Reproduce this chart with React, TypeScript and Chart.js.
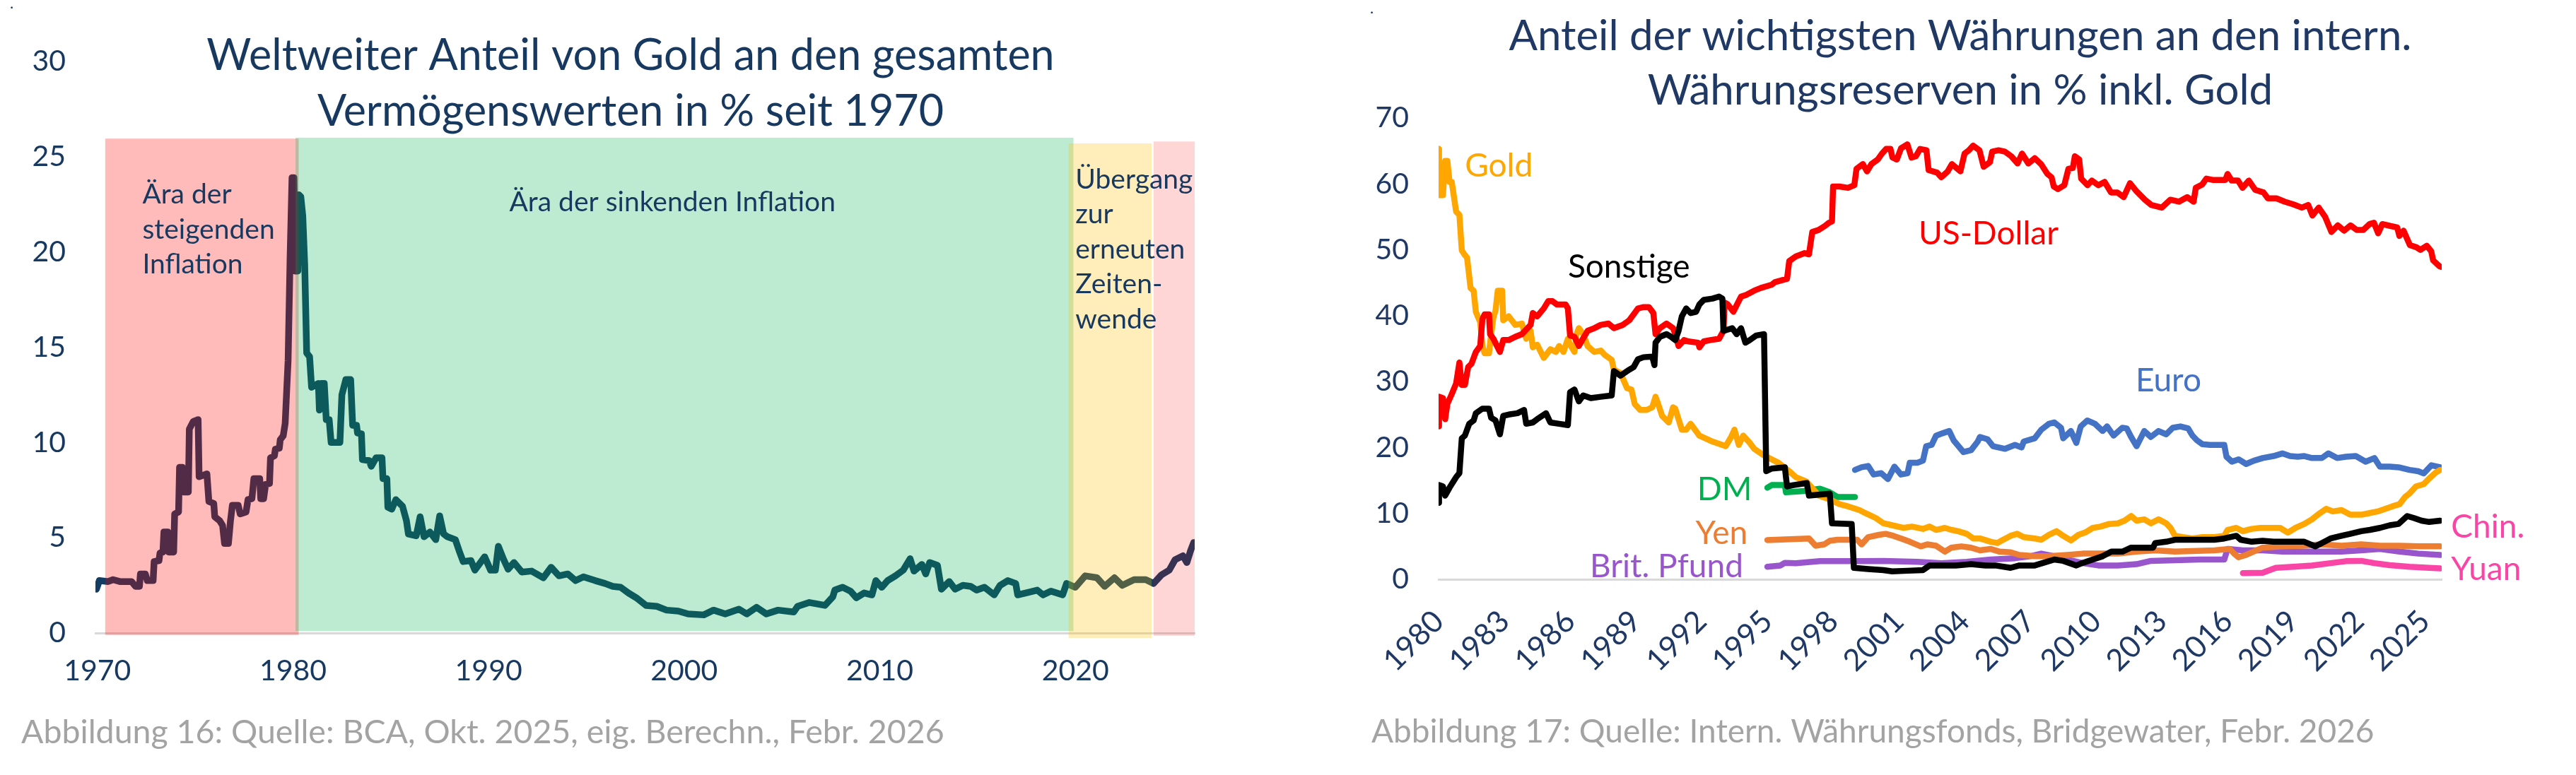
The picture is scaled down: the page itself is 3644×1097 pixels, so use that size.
import React, { useEffect, useRef } from "react";
import { Chart, registerables } from "chart.js";

Chart.register(...registerables);

// ---------------- data: left chart (gold share of global assets, %) ----------------
const goldShareYears = [
  1969.95, 1970.1, 1970.55, 1970.8, 1971.15, 1971.75, 1971.95, 1972.15, 1972.2, 1972.45, 1972.55, 1972.85,
  1972.9, 1973.15, 1973.2, 1973.35, 1973.4, 1973.6, 1973.65, 1973.9, 1973.95, 1974.15, 1974.2, 1974.35,
  1974.4, 1974.65, 1974.7, 1974.9, 1975.15, 1975.2, 1975.6, 1975.7, 1975.95, 1976.0, 1976.25, 1976.4,
  1976.5, 1976.7, 1976.8, 1976.9, 1977.2, 1977.3, 1977.6, 1977.7, 1977.9, 1978.0, 1978.3, 1978.35,
  1978.5, 1978.6, 1978.8, 1978.85, 1979.05, 1979.1, 1979.3, 1979.35, 1979.5, 1979.6, 1979.75, 1979.85,
  1979.95, 1980.05, 1980.1, 1980.25, 1980.3, 1980.4, 1980.5, 1980.6, 1980.7, 1980.85, 1980.95, 1981.3,
  1981.35, 1981.45, 1981.6, 1981.7, 1981.85, 1981.95, 1982.4, 1982.5, 1982.7, 1982.95, 1983.05, 1983.25,
  1983.3, 1983.5, 1983.55, 1983.9, 1984.0, 1984.25, 1984.55, 1984.6, 1984.8, 1984.85, 1985.05, 1985.26,
  1985.6, 1985.8, 1985.9, 1986.3, 1986.5, 1986.7, 1987.0, 1987.3, 1987.5, 1987.7, 1987.9, 1988.3,
  1988.5, 1988.7, 1989.1, 1989.3, 1989.8, 1990.1, 1990.35, 1990.5, 1990.75, 1991.0, 1991.3, 1991.7,
  1992.2, 1992.8, 1993.2, 1993.6, 1994.05, 1994.45, 1994.85, 1995.45, 1995.95, 1996.35, 1996.75, 1997.15,
  1997.55, 1998.05, 1998.6, 1999.1, 1999.7, 2000.2, 2001.0, 2001.5, 2002.1, 2002.8, 2003.2, 2003.7,
  2004.2, 2004.8, 2005.6, 2005.8, 2006.4, 2007.2, 2007.6, 2007.7, 2008.1, 2008.5, 2008.8, 2009.2,
  2009.6, 2009.8, 2010.1, 2010.4, 2010.8, 2011.2, 2011.55, 2011.75, 2012.15, 2012.35, 2012.55, 2012.95,
  2013.15, 2013.55, 2013.85, 2014.25, 2014.65, 2014.95, 2015.35, 2015.85, 2016.15, 2016.55, 2016.95, 2017.05,
  2017.65, 2018.05, 2018.35, 2018.75, 2019.35, 2019.55, 2020.0, 2020.5, 2021.1, 2021.5, 2022.0, 2022.4,
  2023.0, 2023.6, 2024.0, 2024.4, 2024.8, 2025.1, 2025.5, 2025.7, 2025.9, 2026.05,
];
const goldShareValues = [
  2.3, 2.75, 2.7, 2.8, 2.7, 2.7, 2.45, 2.45, 3.1, 3.1, 2.75, 2.75,
  3.75, 3.8, 4.2, 4.25, 5.3, 5.3, 4.25, 4.25, 6.25, 6.35, 8.7, 8.7,
  7.4, 7.4, 10.7, 11.1, 11.2, 8.2, 8.35, 6.9, 6.8, 6.1, 5.9, 5.65,
  4.7, 4.7, 5.85, 6.7, 6.7, 6.25, 6.35, 7.0, 7.05, 8.1, 8.1, 7.05,
  7.05, 7.8, 7.85, 9.2, 9.3, 9.65, 9.7, 10.15, 10.35, 11.0, 14.3, 19.6,
  23.9, 23.9, 19.0, 19.0, 23.0, 22.9, 21.9, 19.3, 14.7, 14.5, 12.9, 13.1,
  11.7, 13.1, 13.1, 11.2, 11.2, 10.0, 10.0, 12.5, 13.3, 13.3, 10.9, 10.9,
  10.5, 10.45, 9.1, 9.05, 8.75, 9.2, 9.2, 8.1, 8.1, 6.6, 6.5, 7.0,
  6.65, 5.9, 5.2, 5.1, 6.1, 5.05, 5.3, 4.9, 6.15, 5.2, 5.05, 4.9,
  4.3, 3.75, 3.8, 3.3, 4.0, 3.3, 3.3, 4.55, 3.9, 3.35, 3.7, 3.2,
  3.25, 2.9, 3.45, 3.0, 3.1, 2.75, 2.95, 2.75, 2.6, 2.45, 2.4, 2.1,
  1.85, 1.45, 1.4, 1.2, 1.15, 1.0, 0.95, 1.2, 1.0, 1.25, 1.0, 1.35,
  1.0, 1.2, 1.1, 1.4, 1.6, 1.45, 1.9, 2.25, 2.4, 2.2, 1.85, 2.1,
  2.0, 2.75, 2.4, 2.75, 3.0, 3.3, 3.9, 3.25, 3.6, 3.1, 3.7, 3.55,
  2.3, 2.7, 2.3, 2.5, 2.45, 2.25, 2.4, 2.0, 2.5, 2.75, 2.6, 2.0,
  2.15, 2.25, 2.0, 2.2, 2.0, 2.6, 2.4, 3.0, 2.9, 2.45, 2.9, 2.5,
  2.8, 2.8, 2.6, 3.05, 3.3, 3.85, 4.05, 3.7, 4.35, 4.75,
];
const leftXTicks = [1970, 1980, 1990, 2000, 2010, 2020];
// eras (start year, end year, upper value, lower value)
const eraStartYears = [1970.4, 1980.13, 2019.65, 2024.0];
const eraEndYears = [1980.29, 2019.9, 2023.9, 2026.1];
const eraTopValues = [25.95, 26.0, 25.7, 25.8];
const eraBottomValues = [-0.1, 0.1, -0.26, -0.15];
const eraTexts = [
  ["Ära der", "steigenden", "Inflation"],
  ["Ära der sinkenden Inflation"],
  ["Übergang", "zur", "erneuten", "Zeiten-", "wende"],
];

// ---------------- data: right chart (currency shares of reserves, %) ----------------
const usdYears = [
  1980.0, 1980.02, 1980.2, 1980.3, 1980.4, 1980.6, 1980.8, 1980.95, 1981.06, 1981.2, 1981.35, 1981.5,
  1981.7, 1981.9, 1982.0, 1982.1, 1982.3, 1982.35, 1982.5, 1982.8, 1982.95, 1983.2, 1983.5, 1983.8,
  1984.0, 1984.2, 1984.3, 1984.5, 1984.8, 1985.0, 1985.2, 1985.4, 1985.8, 1985.9, 1986.0, 1986.2,
  1986.4, 1986.55, 1986.8, 1987.1, 1987.4, 1987.75, 1988.0, 1988.4, 1988.7, 1988.9, 1989.1, 1989.35,
  1989.6, 1989.8, 1989.9, 1990.1, 1990.4, 1990.7, 1990.8, 1990.95, 1991.2, 1991.4, 1991.85, 1991.9,
  1992.1, 1992.4, 1992.8, 1993.0, 1993.05, 1993.2, 1993.45, 1993.8, 1994.0, 1994.4, 1994.7, 1995.2,
  1995.35, 1995.9, 1996.0, 1996.3, 1996.7, 1996.9, 1997.05, 1997.33, 1997.62, 1997.81, 1997.95, 1998.0,
  1998.29, 1998.68, 1998.97, 1999.07, 1999.36, 1999.55, 1999.75, 2000.04, 2000.23, 2000.42, 2000.62, 2000.71,
  2000.91, 2001.1, 2001.39, 2001.58, 2001.78, 2001.97, 2002.26, 2002.36, 2002.75, 2002.94, 2003.23, 2003.42,
  2003.81, 2004.0, 2004.2, 2004.39, 2004.68, 2004.87, 2005.16, 2005.26, 2005.55, 2005.84, 2006.13, 2006.42,
  2006.62, 2006.91, 2007.2, 2007.49, 2007.78, 2007.97, 2008.07, 2008.26, 2008.55, 2008.74, 2008.94, 2009.03,
  2009.23, 2009.32, 2009.61, 2009.81, 2010.1, 2010.39, 2010.68, 2010.97, 2011.26, 2011.55, 2011.84, 2012.23,
  2012.52, 2013.0, 2013.39, 2013.78, 2014.16, 2014.45, 2014.55, 2014.84, 2015.03, 2015.32, 2015.9, 2016.0,
  2016.19, 2016.48, 2016.68, 2016.97, 2017.26, 2017.64, 2017.84, 2018.23, 2018.61, 2019.0, 2019.39, 2019.68,
  2019.87, 2020.16, 2020.45, 2020.74, 2021.03, 2021.32, 2021.61, 2021.9, 2022.19, 2022.48, 2022.68, 2022.87,
  2023.06, 2023.45, 2023.74, 2023.84, 2024.03, 2024.32, 2024.61, 2024.8, 2025.09, 2025.29, 2025.38, 2025.67,
  2025.77,
];
const usdValues = [
  23.2, 27.7, 27.5, 24.3, 26.6, 28.1, 29.7, 32.9, 29.5, 29.5, 32.2, 32.7,
  34.5, 35.4, 39.5, 40.2, 40.2, 37.2, 36.5, 34.5, 36.3, 36.3, 36.8, 37.2,
  37.9, 38.6, 40.4, 39.9, 41.1, 42.2, 42.2, 41.7, 41.7, 41.1, 37.0, 36.8,
  35.4, 36.3, 37.7, 38.1, 38.6, 38.8, 38.1, 38.6, 39.3, 40.2, 41.1, 41.3,
  41.3, 40.4, 37.2, 38.1, 38.8, 38.1, 37.2, 35.4, 36.3, 36.1, 35.9, 35.2,
  36.1, 36.3, 36.5, 37.7, 42.0, 41.7, 40.6, 42.9, 43.1, 43.8, 44.2, 44.7,
  45.1, 45.6, 48.3, 49.0, 49.5, 49.3, 52.7, 53.0, 53.6, 54.1, 54.3, 59.6,
  59.6, 59.4, 59.8, 62.3, 63.0, 61.9, 63.0, 63.7, 64.6, 65.3, 65.3, 64.0,
  63.7, 65.4, 66.0, 64.0, 64.2, 65.3, 65.1, 62.1, 61.7, 61.0, 61.9, 63.0,
  61.9, 64.6, 65.1, 65.8, 65.1, 62.6, 63.3, 64.9, 65.1, 64.9, 64.2, 63.1,
  64.6, 63.1, 63.9, 63.0, 61.5, 61.0, 59.6, 59.2, 59.8, 62.3, 62.4, 64.2,
  63.7, 60.8, 59.8, 60.5, 59.8, 60.3, 58.7, 58.7, 58.0, 60.1, 58.9, 57.6,
  56.8, 56.4, 57.6, 57.3, 58.0, 57.3, 59.4, 59.9, 60.8, 60.6, 60.6, 61.5,
  60.5, 60.5, 59.4, 60.5, 59.1, 58.7, 57.8, 57.8, 57.3, 56.9, 56.4, 56.8,
  55.2, 56.4, 55.0, 52.7, 53.7, 52.9, 53.7, 53.0, 53.0, 53.9, 54.1, 52.5,
  53.9, 53.6, 53.4, 52.1, 52.9, 50.7, 50.4, 50.0, 50.6, 49.8, 48.4, 47.5,
  47.4,
];

const goldYears = [
  1980.0, 1980.02, 1980.2, 1980.3, 1980.4, 1980.5, 1980.6, 1980.7, 1980.8, 1980.95, 1981.06, 1981.2,
  1981.3, 1981.46, 1981.6, 1981.7, 1981.9, 1982.0, 1982.1, 1982.3, 1982.4, 1982.5, 1982.6, 1982.7,
  1982.9, 1982.95, 1983.2, 1983.5, 1983.8, 1984.0, 1984.05, 1984.2, 1984.3, 1984.5, 1984.8, 1985.1,
  1985.35, 1985.5, 1985.7, 1985.9, 1986.0, 1986.2, 1986.3, 1986.4, 1986.6, 1986.8, 1987.1, 1987.4,
  1987.6, 1987.9, 1988.0, 1988.3, 1988.6, 1988.8, 1988.95, 1989.2, 1989.5, 1989.75, 1989.9, 1990.0,
  1990.2, 1990.5, 1990.7, 1990.8, 1991.1, 1991.3, 1991.5, 1991.9, 1992.5, 1993.1, 1993.35, 1993.5,
  1993.7, 1993.9, 1994.2, 1994.4, 1994.8, 1995.2, 1995.5, 1996.0, 1996.3, 1996.8, 1997.35, 1997.85,
  1998.3, 1998.7, 1999.2, 1999.5, 1999.95, 2000.3, 2000.7, 2001.2, 2001.6, 2002.1, 2002.4, 2002.7,
  2003.1, 2003.4, 2003.7, 2004.1, 2004.4, 2004.7, 2005.2, 2005.5, 2005.7, 2006.1, 2006.4, 2006.7,
  2007.2, 2007.5, 2007.85, 2008.2, 2008.5, 2008.85, 2009.2, 2009.5, 2009.85, 2010.2, 2010.6, 2011.0,
  2011.3, 2011.6, 2011.85, 2012.2, 2012.5, 2012.85, 2013.2, 2013.4, 2013.6, 2013.95, 2014.4, 2014.85,
  2015.4, 2015.85, 2016.0, 2016.4, 2016.7, 2017.1, 2017.5, 2018.0, 2018.4, 2018.75, 2019.1, 2019.5,
  2019.85, 2020.2, 2020.5, 2020.8, 2021.2, 2021.6, 2022.1, 2022.4, 2022.85, 2023.2, 2023.5, 2023.85,
  2024.1, 2024.3, 2024.6, 2024.95, 2025.2, 2025.5, 2025.7,
];
const goldValues = [
  65.3, 58.3, 58.3, 63.5, 63.5, 60.3, 60.3, 58.1, 55.8, 55.3, 49.9, 49.2,
  48.8, 44.2, 43.8, 40.6, 39.0, 35.4, 34.3, 34.3, 37.2, 39.7, 40.8, 43.8,
  43.8, 39.3, 39.9, 38.6, 38.8, 36.5, 38.1, 37.7, 35.2, 35.6, 33.6, 34.9,
  34.5, 35.4, 34.5, 36.5, 35.6, 34.5, 37.2, 38.1, 37.2, 35.4, 34.5, 34.7,
  34.0, 33.3, 31.8, 31.3, 29.0, 28.8, 26.6, 25.7, 25.7, 26.1, 27.7, 26.8,
  24.8, 23.8, 26.1, 25.9, 22.7, 22.7, 23.6, 21.8, 20.9, 20.2, 21.6, 22.7,
  20.4, 21.8, 20.7, 19.8, 18.9, 18.2, 17.7, 16.4, 15.5, 14.8, 12.7, 12.1,
  11.4, 11.05, 10.5, 10.0, 9.3, 8.5, 8.2, 7.8, 8.0, 7.65, 8.0, 7.5,
  7.8, 7.5, 7.3, 6.9, 6.2, 6.2, 5.7, 5.5, 5.9, 6.6, 6.9, 6.4,
  6.2, 6.0, 6.75, 7.3, 6.6, 5.9, 6.75, 7.1, 7.8, 8.0, 8.4, 8.5,
  8.9, 9.6, 8.9, 9.1, 8.5, 9.1, 8.5, 7.8, 6.6, 6.4, 6.2, 6.4,
  6.4, 6.6, 7.5, 7.8, 7.3, 7.65, 7.8, 7.8, 7.8, 7.1, 7.8, 8.4,
  9.1, 10.0, 10.7, 10.3, 10.5, 9.8, 9.8, 10.0, 10.3, 10.7, 11.05, 11.4,
  12.5, 13.0, 14.1, 14.45, 15.3, 16.2, 16.6,
];

const otherYears = [
  1980.0, 1980.02, 1980.2, 1980.3, 1980.5, 1980.8, 1980.95, 1981.06, 1981.2, 1981.4, 1981.6, 1981.7,
  1982.0, 1982.3, 1982.4, 1982.6, 1982.8, 1982.95, 1983.2, 1983.6, 1983.9, 1984.0, 1984.3, 1984.5,
  1984.9, 1985.1, 1985.5, 1985.9, 1986.0, 1986.2, 1986.4, 1986.6, 1986.95, 1987.4, 1987.9, 1988.0,
  1988.3, 1988.7, 1988.9, 1989.1, 1989.35, 1989.75, 1989.85, 1989.9, 1990.1, 1990.4, 1990.6, 1990.8,
  1990.95, 1991.1, 1991.3, 1991.5, 1991.75, 1991.9, 1992.1, 1992.5, 1992.8, 1992.95, 1993.0, 1993.2,
  1993.4, 1993.6, 1993.8, 1994.0, 1994.2, 1994.5, 1994.85, 1994.95, 1995.2, 1995.8, 1995.9, 1996.2,
  1996.8, 1996.9, 1997.85, 1997.95, 1998.85, 1998.95, 1999.6, 2000.3, 2000.7, 2001.4, 2002.1, 2002.4,
  2002.95, 2003.6, 2004.3, 2004.95, 2005.4, 2006.1, 2006.5, 2007.2, 2007.6, 2008.1, 2008.5, 2009.1,
  2009.4, 2009.85, 2010.3, 2010.7, 2011.2, 2011.6, 2012.1, 2012.6, 2012.7, 2013.2, 2013.6, 2014.1,
  2015.4, 2015.85, 2016.4, 2016.6, 2017.1, 2017.6, 2018.1, 2019.5, 2020.0, 2020.3, 2020.7, 2021.2,
  2021.6, 2022.1, 2022.5, 2022.95, 2023.4, 2023.8, 2024.2, 2024.5, 2024.85, 2025.2, 2025.7,
];
const otherValues = [
  11.6, 14.3, 14.1, 12.7, 13.9, 15.5, 16.1, 21.4, 21.8, 23.6, 24.1, 25.2,
  25.9, 25.9, 24.5, 24.1, 22.0, 24.8, 25.0, 25.2, 25.7, 23.6, 23.8, 24.3,
  25.2, 23.8, 23.6, 23.4, 28.4, 28.8, 27.0, 27.9, 27.5, 27.7, 27.9, 31.6,
  30.9, 31.8, 32.2, 33.4, 33.7, 33.8, 32.5, 35.9, 36.8, 37.2, 36.8, 36.3,
  37.7, 39.9, 41.1, 40.4, 40.6, 41.7, 42.4, 42.6, 42.9, 42.6, 37.7, 37.9,
  38.1, 37.2, 38.1, 35.9, 36.3, 37.0, 37.2, 16.4, 16.8, 17.0, 14.1, 14.3,
  14.6, 12.7, 13.0, 8.5, 8.4, 1.74, 1.56, 1.4, 1.2, 1.3, 1.4, 2.1,
  2.1, 2.1, 2.3, 2.1, 2.1, 1.74, 2.1, 2.1, 2.5, 3.0, 2.8, 2.1,
  2.5, 3.0, 3.5, 4.2, 4.2, 4.8, 4.8, 4.8, 5.5, 5.7, 6.0, 6.0,
  6.0, 6.2, 6.6, 6.0, 5.7, 5.85, 5.7, 5.7, 5.0, 5.5, 6.2, 6.6,
  6.9, 7.3, 7.5, 7.8, 8.2, 8.4, 9.6, 9.3, 8.9, 8.7, 8.9,
];

const euroYears = [
  1999.0, 1999.3, 1999.6, 1999.85, 2000.2, 2000.5, 2000.8, 2001.1, 2001.4, 2001.5, 2001.85, 2002.1,
  2002.25, 2002.5, 2002.7, 2002.95, 2003.3, 2003.5, 2003.95, 2004.3, 2004.6, 2004.7, 2005.05, 2005.3,
  2005.85, 2006.3, 2006.6, 2006.7, 2007.2, 2007.5, 2007.85, 2008.1, 2008.4, 2008.5, 2008.85, 2009.1,
  2009.3, 2009.6, 2009.95, 2010.3, 2010.5, 2010.8, 2011.2, 2011.4, 2011.6, 2011.85, 2012.2, 2012.5,
  2012.85, 2013.2, 2013.5, 2013.85, 2014.2, 2014.4, 2014.6, 2014.85, 2015.2, 2015.85, 2015.95, 2016.2,
  2016.5, 2016.85, 2017.2, 2017.6, 2018.1, 2018.5, 2018.85, 2019.2, 2019.5, 2019.85, 2020.3, 2020.6,
  2021.0, 2021.4, 2021.85, 2022.3, 2022.7, 2022.95, 2023.4, 2023.8, 2024.3, 2024.7, 2024.95, 2025.3,
  2025.7,
];
const euroValues = [
  16.6, 17.0, 17.2, 15.9, 16.1, 15.2, 17.1, 15.9, 16.1, 17.7, 17.7, 18.0,
  20.2, 20.4, 21.8, 22.1, 22.5, 21.1, 19.3, 19.6, 20.9, 21.6, 21.25, 20.2,
  19.8, 20.4, 20.0, 20.9, 21.4, 22.7, 23.6, 23.8, 23.0, 21.4, 22.5, 20.7,
  23.2, 24.1, 23.6, 22.5, 23.2, 21.8, 23.0, 22.9, 21.6, 20.2, 22.5, 21.6,
  22.5, 22.0, 23.0, 23.2, 22.9, 21.8, 21.1, 20.5, 20.4, 20.4, 18.6, 17.85,
  18.2, 17.5, 18.0, 18.4, 18.7, 19.1, 18.7, 18.6, 18.7, 18.4, 18.4, 19.1,
  18.4, 18.6, 18.7, 17.85, 18.4, 17.1, 17.1, 17.0, 16.6, 16.4, 16.06, 17.3,
  17.0,
];

const dmYears = [1995.0, 1995.2, 1995.8, 1995.85, 1996.7, 1997.4, 1997.85, 1998.2, 1999.0];
const dmValues = [13.9, 14.3, 14.3, 13.2, 13.4, 13.75, 13.2, 12.5, 12.5];

const yenYears = [
  1995.0, 1996.9, 1997.2, 1997.6, 1997.85, 1998.2, 1999.1, 1999.3, 1999.6, 2000.1, 2000.4, 2000.75,
  2001.1, 2001.5, 2002.0, 2002.3, 2002.7, 2003.1, 2003.4, 2003.85, 2004.3, 2004.7, 2005.2, 2005.6,
  2006.1, 2006.5, 2007.2, 2007.85, 2008.7, 2009.4, 2011.0, 2011.85, 2012.7, 2013.6, 2015.4, 2016.1,
  2016.3, 2016.5, 2016.85, 2017.6, 2018.5, 2019.4, 2020.3, 2021.2, 2022.1, 2022.95, 2023.85, 2024.7,
  2025.7,
];
const yenValues = [
  5.95, 6.2, 5.1, 5.3, 5.85, 6.0, 6.0, 5.3, 6.4, 6.75, 6.9, 6.6,
  6.2, 5.7, 5.0, 5.3, 5.1, 4.2, 4.8, 5.0, 4.8, 4.4, 4.6, 4.2,
  4.1, 3.7, 3.5, 3.5, 3.7, 3.9, 3.9, 4.2, 4.4, 4.2, 4.4, 4.6,
  3.9, 3.35, 3.7, 4.8, 5.0, 5.1, 5.3, 5.1, 5.3, 5.1, 5.1, 5.0,
  5.0,
];

const gbpYears = [
  1995.0, 1995.6, 1995.8, 1996.3, 1997.4, 1998.95, 2000.3, 2001.85, 2002.95, 2004.1, 2005.2, 2006.3,
  2007.0, 2007.5, 2008.1, 2008.7, 2009.4, 2010.1, 2011.0, 2011.85, 2012.5, 2013.6, 2014.7, 2015.85,
  2016.0, 2016.7, 2017.6, 2018.5, 2021.2, 2022.1, 2022.95, 2023.85, 2024.7, 2025.7,
];
const gbpValues = [
  1.9, 2.1, 2.5, 2.45, 2.75, 2.75, 2.8, 2.65, 2.45, 2.65, 3.0, 3.2,
  3.5, 3.9, 3.5, 3.0, 2.45, 2.1, 2.1, 2.3, 2.8, 2.9, 3.0, 3.0,
  4.6, 4.4, 4.4, 4.2, 4.2, 4.4, 4.6, 4.2, 3.9, 3.7,
];

const cnyYears = [2016.7, 2017.6, 2018.2, 2019.0, 2019.85, 2020.7, 2021.4, 2022.1, 2022.7, 2023.4, 2024.3, 2025.2, 2025.7];
const cnyValues = [0.95, 1.0, 1.75, 1.9, 2.1, 2.45, 2.75, 2.8, 2.45, 2.15, 1.9, 1.75, 1.65];

const rightXTicks = [1980, 1983, 1986, 1989, 1992, 1995, 1998, 2001, 2004, 2007, 2010, 2013, 2016, 2019, 2022, 2025];

// ---------------- styles ----------------
const FONT = "Lato, 'Open Sans', 'DejaVu Sans', sans-serif";
const NAVY_L = "#17385F";
const NAVY_R = "#1F3864";
const GREY = "#A3A3A3";
const ERA_COLORS = ["rgba(255,0,0,0.27)", "rgba(0,176,80,0.26)", "rgba(255,192,0,0.27)", "rgba(255,0,0,0.16)"];

const W = 1822;
const H = 1097;

const pts = (xs: number[], ys: number[]) => xs.map((x, i) => ({ x, y: ys[i] }));

function text(
  ctx: CanvasRenderingContext2D,
  s: string,
  x: number,
  y: number,
  size: number,
  color: string,
  align: CanvasTextAlign = "left",
  baseline: CanvasTextBaseline = "middle"
) {
  ctx.font = `${size}px ${FONT}`;
  ctx.fillStyle = color;
  ctx.textAlign = align;
  ctx.textBaseline = baseline;
  ctx.fillText(s, x, y);
}

const leftPlugin = {
  id: "leftDecor",
  afterDatasetsDraw(chart: any) {
    const { ctx, scales } = chart;
    const x = scales.x;
    const y = scales.y;
    ctx.save();
    eraStartYears.forEach((s, i) => {
      const x1 = x.getPixelForValue(s);
      const x2 = x.getPixelForValue(eraEndYears[i]);
      const y1 = y.getPixelForValue(eraTopValues[i]);
      const y2 = y.getPixelForValue(eraBottomValues[i]);
      ctx.fillStyle = ERA_COLORS[i];
      ctx.fillRect(x1, y1, x2 - x1, y2 - y1);
    });
    ctx.restore();
  },
  afterDraw(chart: any) {
    const { ctx, scales } = chart;
    const x = scales.x;
    const y = scales.y;
    ctx.save();
    text(ctx, ".", 14, 12, 22, NAVY_L, "left", "alphabetic");
    text(ctx, "Weltweiter Anteil von Gold an den gesamten", 892, 99, 61, NAVY_L, "center", "alphabetic");
    text(ctx, "Vermögenswerten in % seit 1970", 892, 178, 61, NAVY_L, "center", "alphabetic");
    const lh = 49.5;
    const anchors = [
      { x: 1972.3, y: 23.0, align: "left" as CanvasTextAlign },
      { x: 1999.4, y: 22.6, align: "center" as CanvasTextAlign },
      { x: 2020.0, y: 23.8, align: "left" as CanvasTextAlign },
    ];
    eraTexts.forEach((lines, i) => {
      const a = anchors[i];
      const px = x.getPixelForValue(a.x);
      const py = y.getPixelForValue(a.y);
      lines.forEach((ln, j) => text(ctx, ln, px, py + j * lh, 39, NAVY_L, a.align));
    });
    text(ctx, "Abbildung 16: Quelle: BCA, Okt. 2025, eig. Berechn., Febr. 2026", 30, 1037, 46.5, GREY);
    ctx.restore();
  },
};

const rightLabels = [
  { t: "Gold", x: 1981.2, y: 62.7, c: "#FFA600", a: "left" },
  { t: "US-Dollar", x: 2001.9, y: 52.4, c: "#FF0000", a: "left" },
  { t: "Sonstige", x: 1985.9, y: 47.4, c: "#000000", a: "left" },
  { t: "Euro", x: 2011.8, y: 30.1, c: "#4472C4", a: "left" },
  { t: "DM", x: 1994.3, y: 13.6, c: "#00B050", a: "right" },
  { t: "Yen", x: 1994.1, y: 7.0, c: "#ED7D31", a: "right" },
  { t: "Brit. Pfund", x: 1993.9, y: 1.9, c: "#9955CC", a: "right" },
  { t: "Chin.", x: 2026.2, y: 7.9, c: "#F946A6", a: "left" },
  { t: "Yuan", x: 2026.2, y: 1.5, c: "#F946A6", a: "left" },
];

const rightPlugin = {
  id: "rightDecor",
  afterDraw(chart: any) {
    const { ctx, scales } = chart;
    const x = scales.x;
    const y = scales.y;
    ctx.save();
    text(ctx, ".", 116, 19, 22, NAVY_R, "left", "alphabetic");
    text(ctx, "Anteil der wichtigsten Währungen an den intern.", 951, 71, 60, NAVY_R, "center", "alphabetic");
    text(ctx, "Währungsreserven in % inkl. Gold", 951, 148, 60, NAVY_R, "center", "alphabetic");
    rightLabels.forEach((l) =>
      text(ctx, l.t, x.getPixelForValue(l.x), y.getPixelForValue(l.y), 46, l.c, l.a as CanvasTextAlign)
    );
    text(ctx, "Abbildung 17: Quelle: Intern. Währungsfonds, Bridgewater, Febr. 2026", 118, 1036, 46, GREY);
    ctx.restore();
  },
};

const lineStyle = (color: string, width: number) => ({
  borderColor: color,
  backgroundColor: color,
  borderWidth: width,
  pointRadius: 0,
  tension: 0,
  fill: false,
  borderJoinStyle: "round" as const,
  borderCapStyle: "round" as const,
});

function leftConfig(): any {
  return {
    type: "line",
    data: {
      datasets: [{ label: "Gold", data: pts(goldShareYears, goldShareValues), ...lineStyle("#123C62", 9.5) }],
    },
    options: {
      responsive: false,
      animation: false,
      devicePixelRatio: 1,
      events: [],
      layout: { padding: { left: 0, top: 87, right: 132, bottom: 0 } },
      plugins: { legend: { display: false }, tooltip: { enabled: false }, title: { display: false } },
      scales: {
        x: {
          type: "linear",
          min: 1969.9,
          max: 2026.1,
          grid: { display: false, drawTicks: false },
          border: { display: true, color: "#D9D9D9", width: 3 },
          ticks: {
            color: NAVY_L,
            font: { family: FONT, size: 41 },
            padding: 29,
            maxRotation: 0,
            autoSkip: false,
            callback: (v: number) => String(v),
          },
          afterBuildTicks: (s: any) => {
            s.ticks = leftXTicks.map((v) => ({ value: v }));
          },
          afterFit: (s: any) => {
            s.height = H - 896;
          },
        },
        y: {
          min: 0,
          max: 30,
          grid: { display: false, drawTicks: false },
          border: { display: false },
          ticks: {
            stepSize: 5,
            color: NAVY_L,
            font: { family: FONT, size: 41 },
            padding: 42,
            callback: (v: number) => String(v),
          },
          afterFit: (s: any) => {
            s.width = 135;
          },
        },
      },
    },
    plugins: [leftPlugin],
  };
}

function rightConfig(): any {
  return {
    type: "line",
    data: {
      datasets: [
        { label: "Sonstige", data: pts(otherYears, otherValues), ...lineStyle("#000000", 8.5) },
        { label: "US-Dollar", data: pts(usdYears, usdValues), ...lineStyle("#FF0000", 8.5) },
        { label: "Gold", data: pts(goldYears, goldValues), ...lineStyle("#FFA600", 8.5) },
        { label: "Euro", data: pts(euroYears, euroValues), ...lineStyle("#4472C4", 8.5) },
        { label: "DM", data: pts(dmYears, dmValues), ...lineStyle("#00B050", 8.5) },
        { label: "Yen", data: pts(yenYears, yenValues), ...lineStyle("#ED7D31", 8.5) },
        { label: "Brit. Pfund", data: pts(gbpYears, gbpValues), ...lineStyle("#9955CC", 8.5) },
        { label: "Chin. Yuan", data: pts(cnyYears, cnyValues), ...lineStyle("#F946A6", 8.5) },
      ],
    },
    options: {
      responsive: false,
      animation: false,
      devicePixelRatio: 1,
      events: [],
      layout: { padding: { left: 0, top: 167, right: 190, bottom: 0 } },
      plugins: { legend: { display: false }, tooltip: { enabled: false }, title: { display: false } },
      scales: {
        x: {
          type: "linear",
          min: 1980,
          max: 2025.77,
          grid: { display: false, drawTicks: false },
          border: { display: true, color: "#D9D9D9", width: 3 },
          ticks: {
            color: NAVY_R,
            font: { family: FONT, size: 43 },
            padding: 34,
            minRotation: 45,
            maxRotation: 45,
            autoSkip: false,
            callback: (v: number) => String(v),
          },
          afterBuildTicks: (s: any) => {
            s.ticks = rightXTicks.map((v) => ({ value: v }));
          },
          afterFit: (s: any) => {
            s.height = H - 820;
          },
        },
        y: {
          min: 0,
          max: 70,
          grid: { display: false, drawTicks: false },
          border: { display: false },
          ticks: {
            stepSize: 10,
            color: NAVY_R,
            font: { family: FONT, size: 41 },
            padding: 42,
            callback: (v: number) => String(v),
          },
          afterFit: (s: any) => {
            s.width = 213;
          },
        },
      },
    },
    plugins: [rightPlugin],
  };
}

export default function App() {
  const leftRef = useRef<HTMLCanvasElement>(null);
  const rightRef = useRef<HTMLCanvasElement>(null);

  useEffect(() => {
    const l = new Chart(leftRef.current as HTMLCanvasElement, leftConfig());
    const r = new Chart(rightRef.current as HTMLCanvasElement, rightConfig());
    let alive = true;
    const fonts: any = (document as any).fonts;
    if (fonts && fonts.load) {
      Promise.all([fonts.load(`40px Lato`), fonts.ready]).then(() => {
        if (alive) {
          l.update();
          r.update();
        }
      });
    }
    return () => {
      alive = false;
      l.destroy();
      r.destroy();
    };
  }, []);

  return (
    <div style={{ position: "absolute", left: 0, top: 0, width: 2 * W, height: H, background: "#ffffff" }}>
      <canvas
        ref={leftRef}
        width={W}
        height={H}
        style={{ position: "absolute", left: 0, top: 0, width: W, height: H, display: "block" }}
      />
      <canvas
        ref={rightRef}
        width={W}
        height={H}
        style={{ position: "absolute", left: W, top: 0, width: W, height: H, display: "block" }}
      />
    </div>
  );
}
